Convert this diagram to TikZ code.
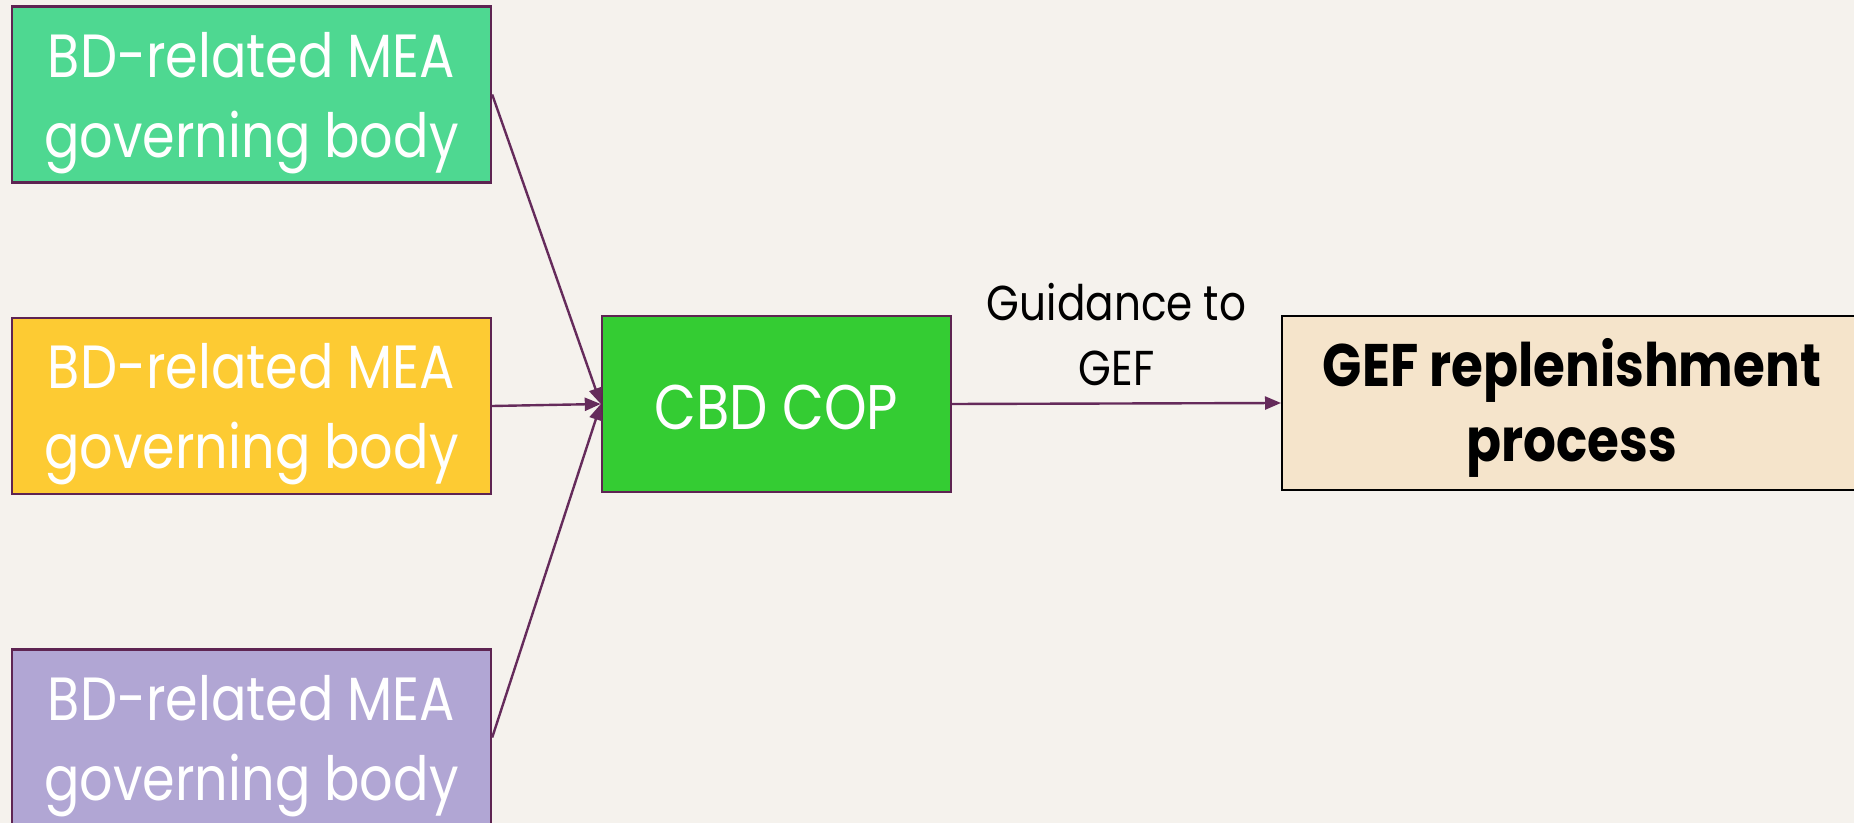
\documentclass[tikz,border=0pt]{standalone}
\usepackage{fontspec}
\setmainfont{Poppins}[FakeStretch=0.86]
\usetikzlibrary{arrows.meta}
\definecolor{bgc}{HTML}{F5F2ED}
\definecolor{edgec}{HTML}{5E2452}
\definecolor{arrc}{HTML}{652B5B}
\definecolor{mintc}{HTML}{4ED891}
\definecolor{yellc}{HTML}{FDCB33}
\definecolor{lavc}{HTML}{B1A6D4}
\definecolor{cbdc}{HTML}{34CC33}
\definecolor{gefc}{HTML}{F5E4CB}
\newcommand{\topstrut}[1]{\rule{0pt}{#1}}
\tikzset{
  meabox/.style={draw=edgec, line width=1.2pt, minimum width=239.5pt, minimum height=88pt, inner sep=0pt, align=center, text=white, font=\fontsize{30.5}{40}\selectfont},
  cbdbox/.style={draw=edgec, fill=cbdc, line width=1.2pt, minimum width=174.5pt, minimum height=88pt, inner sep=0pt, align=center, text=white, font=\fontsize{31.5}{39}\selectfont},
  gefbox/.style={draw=black, fill=gefc, line width=1pt, minimum width=290pt, minimum height=87pt, inner sep=0pt, align=center, text=black, font=\bfseries\fontsize{30}{37.5}\selectfont},
  conn/.style={draw=arrc, line width=1.2pt, -{Triangle[length=8pt,width=6.5pt]}},
  lbl/.style={text=black, align=center, font=\fontsize{24.5}{32.5}\selectfont}
}
\begin{document}
\begin{tikzpicture}[x=0.5pt,y=-0.5pt]
\fill[bgc] (0,0) rectangle (1854,823);
\useasboundingbox (0,0) rectangle (1854,823);
\node[meabox, fill=mintc] (b1) at (251.5,94.5) {\topstrut{31pt}BD-related MEA\\governing body};
\node[meabox, fill=yellc] (b2) at (251.5,406) {\topstrut{31pt}BD-related MEA\\governing body};
\node[meabox, fill=lavc] (b3) at (251.5,737.5) {\topstrut{31pt}BD-related MEA\\governing body};
\node[cbdbox] (cbd) at (776.5,404) {\topstrut{26pt}CBD COP};
\node[gefbox] (gef) at (1572,403) {\topstrut{29pt}GEF replenishment\\process};
\draw[conn] (b1.east) -- (cbd.west);
\draw[conn] (b2.east) -- (cbd.west);
\draw[conn] (b3.east) -- (cbd.west);
\draw[conn] (cbd.east) -- node[lbl, pos=0.5, yshift=34.5pt] (lab) {Guidance to\\GEF} (gef.west);
\end{tikzpicture}
\end{document}
